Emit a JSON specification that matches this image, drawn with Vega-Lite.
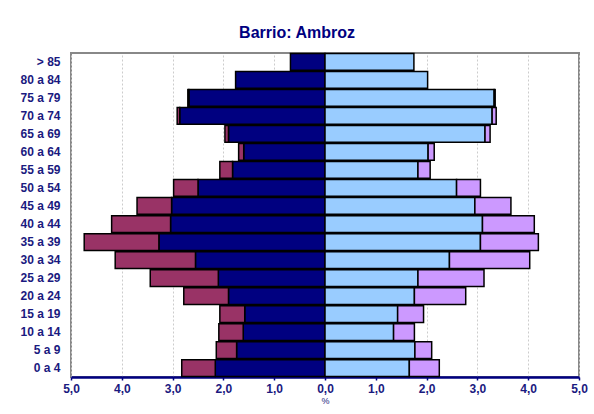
{
  "$schema": "https://vega.github.io/schema/vega-lite/v6.json",
  "width": 508,
  "height": 324,
  "autosize": {"type": "none"},
  "padding": {"left": 71, "top": 53, "right": 15, "bottom": 37},
  "background": "white",
  "title": {
    "text": "Barrio: Ambroz",
    "font": "Liberation Sans",
    "fontSize": 16,
    "fontWeight": "bold",
    "color": "#000080",
    "anchor": "middle",
    "dx": -28,
    "offset": 12
  },
  "config": {
    "view": {"stroke": "#888888", "strokeWidth": 2},
    "font": "Liberation Sans"
  },
  "data": {
    "values": [
      {"edad": "> 85", "grupo": "Hombres españoles", "v": -0.68},
      {"edad": "> 85", "grupo": "Mujeres españolas", "v": 1.75},
      {"edad": "80 a 84", "grupo": "Hombres españoles", "v": -1.76},
      {"edad": "80 a 84", "grupo": "Mujeres españolas", "v": 2.02},
      {"edad": "75 a 79", "grupo": "Hombres españoles", "v": -2.68},
      {"edad": "75 a 79", "grupo": "Hombres extranjeros", "v": -0.02},
      {"edad": "75 a 79", "grupo": "Mujeres españolas", "v": 3.33},
      {"edad": "75 a 79", "grupo": "Mujeres extranjeras", "v": 0.02},
      {"edad": "70 a 74", "grupo": "Hombres españoles", "v": -2.86},
      {"edad": "70 a 74", "grupo": "Hombres extranjeros", "v": -0.05},
      {"edad": "70 a 74", "grupo": "Mujeres españolas", "v": 3.29},
      {"edad": "70 a 74", "grupo": "Mujeres extranjeras", "v": 0.08},
      {"edad": "65 a 69", "grupo": "Hombres españoles", "v": -1.9},
      {"edad": "65 a 69", "grupo": "Hombres extranjeros", "v": -0.07},
      {"edad": "65 a 69", "grupo": "Mujeres españolas", "v": 3.15},
      {"edad": "65 a 69", "grupo": "Mujeres extranjeras", "v": 0.1},
      {"edad": "60 a 64", "grupo": "Hombres españoles", "v": -1.6},
      {"edad": "60 a 64", "grupo": "Hombres extranjeros", "v": -0.1},
      {"edad": "60 a 64", "grupo": "Mujeres españolas", "v": 2.03},
      {"edad": "60 a 64", "grupo": "Mujeres extranjeras", "v": 0.12},
      {"edad": "55 a 59", "grupo": "Hombres españoles", "v": -1.82},
      {"edad": "55 a 59", "grupo": "Hombres extranjeros", "v": -0.25},
      {"edad": "55 a 59", "grupo": "Mujeres españolas", "v": 1.83},
      {"edad": "55 a 59", "grupo": "Mujeres extranjeras", "v": 0.24},
      {"edad": "50 a 54", "grupo": "Hombres españoles", "v": -2.5},
      {"edad": "50 a 54", "grupo": "Hombres extranjeros", "v": -0.48},
      {"edad": "50 a 54", "grupo": "Mujeres españolas", "v": 2.59},
      {"edad": "50 a 54", "grupo": "Mujeres extranjeras", "v": 0.47},
      {"edad": "45 a 49", "grupo": "Hombres españoles", "v": -3.02},
      {"edad": "45 a 49", "grupo": "Hombres extranjeros", "v": -0.68},
      {"edad": "45 a 49", "grupo": "Mujeres españolas", "v": 2.95},
      {"edad": "45 a 49", "grupo": "Mujeres extranjeras", "v": 0.71},
      {"edad": "40 a 44", "grupo": "Hombres españoles", "v": -3.04},
      {"edad": "40 a 44", "grupo": "Hombres extranjeros", "v": -1.16},
      {"edad": "40 a 44", "grupo": "Mujeres españolas", "v": 3.1},
      {"edad": "40 a 44", "grupo": "Mujeres extranjeras", "v": 1.02},
      {"edad": "35 a 39", "grupo": "Hombres españoles", "v": -3.27},
      {"edad": "35 a 39", "grupo": "Hombres extranjeros", "v": -1.47},
      {"edad": "35 a 39", "grupo": "Mujeres españolas", "v": 3.06},
      {"edad": "35 a 39", "grupo": "Mujeres extranjeras", "v": 1.14},
      {"edad": "30 a 34", "grupo": "Hombres españoles", "v": -2.55},
      {"edad": "30 a 34", "grupo": "Hombres extranjeros", "v": -1.58},
      {"edad": "30 a 34", "grupo": "Mujeres españolas", "v": 2.45},
      {"edad": "30 a 34", "grupo": "Mujeres extranjeras", "v": 1.58},
      {"edad": "25 a 29", "grupo": "Hombres españoles", "v": -2.1},
      {"edad": "25 a 29", "grupo": "Hombres extranjeros", "v": -1.34},
      {"edad": "25 a 29", "grupo": "Mujeres españolas", "v": 1.83},
      {"edad": "25 a 29", "grupo": "Mujeres extranjeras", "v": 1.3},
      {"edad": "20 a 24", "grupo": "Hombres españoles", "v": -1.9},
      {"edad": "20 a 24", "grupo": "Hombres extranjeros", "v": -0.88},
      {"edad": "20 a 24", "grupo": "Mujeres españolas", "v": 1.76},
      {"edad": "20 a 24", "grupo": "Mujeres extranjeras", "v": 1.01},
      {"edad": "15 a 19", "grupo": "Hombres españoles", "v": -1.58},
      {"edad": "15 a 19", "grupo": "Hombres extranjeros", "v": -0.49},
      {"edad": "15 a 19", "grupo": "Mujeres españolas", "v": 1.43},
      {"edad": "15 a 19", "grupo": "Mujeres extranjeras", "v": 0.51},
      {"edad": "10 a 14", "grupo": "Hombres españoles", "v": -1.61},
      {"edad": "10 a 14", "grupo": "Hombres extranjeros", "v": -0.48},
      {"edad": "10 a 14", "grupo": "Mujeres españolas", "v": 1.35},
      {"edad": "10 a 14", "grupo": "Mujeres extranjeras", "v": 0.41},
      {"edad": "5 a 9", "grupo": "Hombres españoles", "v": -1.74},
      {"edad": "5 a 9", "grupo": "Hombres extranjeros", "v": -0.4},
      {"edad": "5 a 9", "grupo": "Mujeres españolas", "v": 1.77},
      {"edad": "5 a 9", "grupo": "Mujeres extranjeras", "v": 0.33},
      {"edad": "0 a 4", "grupo": "Hombres españoles", "v": -2.16},
      {"edad": "0 a 4", "grupo": "Hombres extranjeros", "v": -0.66},
      {"edad": "0 a 4", "grupo": "Mujeres españolas", "v": 1.66},
      {"edad": "0 a 4", "grupo": "Mujeres extranjeras", "v": 0.59}
    ]
  },
  "mark": {"type": "bar", "stroke": "black", "strokeWidth": 1.5},
  "encoding": {
    "y": {
      "field": "edad",
      "type": "nominal",
      "sort": ["> 85", "80 a 84", "75 a 79", "70 a 74", "65 a 69", "60 a 64", "55 a 59", "50 a 54", "45 a 49", "40 a 44", "35 a 39", "30 a 34", "25 a 29", "20 a 24", "15 a 19", "10 a 14", "5 a 9", "0 a 4"],
      "scale": {"paddingInner": 0.07, "paddingOuter": 0.03},
      "axis": {
        "title": null,
        "ticks": false,
        "domain": false,
        "labelPadding": 11,
        "labelFont": "Liberation Sans",
        "labelFontSize": 12,
        "labelFontWeight": "bold",
        "labelColor": "#1a1a80"
      }
    },
    "x": {
      "field": "v",
      "type": "quantitative",
      "stack": "zero",
      "scale": {"domain": [-5, 5], "nice": false},
      "axis": {
        "title": "%",
        "titleFont": "Liberation Sans",
        "titleFontSize": 9,
        "titleFontWeight": "normal",
        "titleColor": "#1a1a80",
        "titlePadding": 2,
        "values": [-5, -4, -3, -2, -1, 0, 1, 2, 3, 4, 5],
        "labelExpr": "replace(format(abs(datum.value), '.1f'), '.', ',')",
        "labelFlush": false,
        "labelOverlap": false,
        "labelFont": "Liberation Sans",
        "labelFontSize": 12,
        "labelFontWeight": "bold",
        "labelColor": "#1a1a80",
        "labelPadding": 3,
        "tickColor": "#000080",
        "tickSize": 3,
        "tickWidth": 1.5,
        "domainColor": "#000080",
        "domainWidth": 2.5,
        "grid": true,
        "gridColor": "#cccccc",
        "gridDash": [2, 2],
        "gridWidth": 1
      }
    },
    "color": {
      "field": "grupo",
      "type": "nominal",
      "scale": {
        "domain": ["Hombres españoles", "Hombres extranjeros", "Mujeres españolas", "Mujeres extranjeras"],
        "range": ["#000080", "#993366", "#99CCFF", "#CC99FF"]
      },
      "legend": null
    },
    "order": {"field": "grupo", "type": "nominal", "sort": "ascending"}
  }
}
